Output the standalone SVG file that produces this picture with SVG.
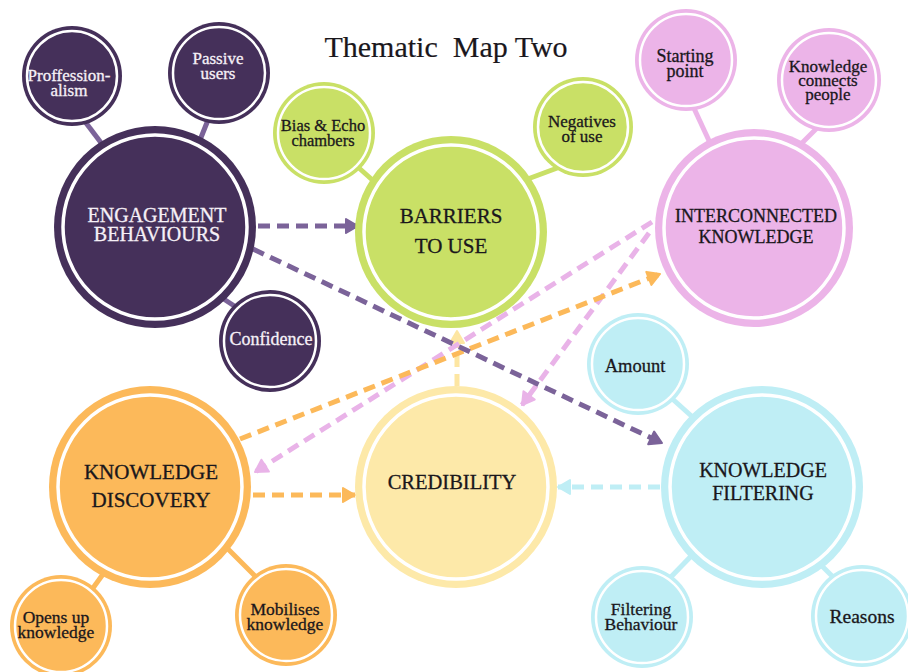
<svg xmlns="http://www.w3.org/2000/svg" width="908" height="672" viewBox="0 0 908 672">
  <style>
    text { font-family: "Liberation Serif", "Times New Roman", serif; text-anchor: middle; fill: #1a171c; stroke: #1a171c; stroke-width: 0.3px; }
    .title { font-size: 30px; white-space: pre; stroke-width: 0.2px; }
    .main { font-size: 20px; }
    .sub { font-size: 17px; }
    .one { font-size: 18.5px; }
    .light { fill: #f6f0f7; stroke: #f6f0f7; }
    .ring { fill: none; stroke: #ffffff; }
    .ring-l { stroke-width: 3.5px; }
    .ring-s { stroke-width: 2.5px; }
    .purple { fill: #45305a; }
    .green { fill: #c9e066; }
    .pink { fill: #ecb4e8; }
    .orange { fill: #fcb95a; }
    .yellow { fill: #fde9a9; }
    .cyan { fill: #bfeef5; }
    .link { stroke-width: 5px; stroke-linecap: butt; fill: none; }
    .dash { stroke-width: 5px; stroke-dasharray: 12 7; fill: none; }
  </style>
  <defs>
    <marker id="ah-purple" viewBox="0 0 16 18" refX="14" refY="9" markerWidth="16" markerHeight="18" markerUnits="userSpaceOnUse" orient="auto">
      <path d="M2,2 L14,9 L2,16 Z" fill="#7b6399" stroke="#7b6399" stroke-width="2" stroke-linejoin="round"/>
    </marker>
    <marker id="ah-orange" viewBox="0 0 16 18" refX="14" refY="9" markerWidth="16" markerHeight="18" markerUnits="userSpaceOnUse" orient="auto">
      <path d="M2,2 L14,9 L2,16 Z" fill="#fcb95a" stroke="#fcb95a" stroke-width="2" stroke-linejoin="round"/>
    </marker>
    <marker id="ah-pink" viewBox="0 0 16 18" refX="14" refY="9" markerWidth="16" markerHeight="18" markerUnits="userSpaceOnUse" orient="auto">
      <path d="M2,2 L14,9 L2,16 Z" fill="#e9b3e8" stroke="#e9b3e8" stroke-width="2" stroke-linejoin="round"/>
    </marker>
    <marker id="ah-yellow" viewBox="0 0 16 18" refX="14" refY="9" markerWidth="16" markerHeight="18" markerUnits="userSpaceOnUse" orient="auto">
      <path d="M2,2 L14,9 L2,16 Z" fill="#fde6a2" stroke="#fde6a2" stroke-width="2" stroke-linejoin="round"/>
    </marker>
    <marker id="ah-cyan" viewBox="0 0 16 18" refX="14" refY="9" markerWidth="16" markerHeight="18" markerUnits="userSpaceOnUse" orient="auto">
      <path d="M2,2 L14,9 L2,16 Z" fill="#bfeef5" stroke="#bfeef5" stroke-width="2" stroke-linejoin="round"/>
    </marker>
  </defs>

  <rect width="908" height="672" fill="#ffffff"/>

  <text class="title" x="446" y="57">Thematic  Map Two</text>

  <!-- links and arrows -->
  <g id="connectors">
    <!-- solid links from each theme to its sub-themes -->
    <g stroke="#7b6399">
      <line class="link" x1="80" y1="115" x2="105" y2="148"/>
      <line class="link" x1="210" y1="115" x2="198" y2="145"/>
      <line class="link" x1="210" y1="290" x2="245" y2="313"/>
    </g>
    <g stroke="#c9e066">
      <line class="link" x1="350" y1="160" x2="378" y2="185"/>
      <line class="link" x1="525" y1="180" x2="560" y2="167"/>
    </g>
    <g stroke="#ecb4e8">
      <line class="link" x1="692" y1="104" x2="711" y2="145"/>
      <line class="link" x1="825" y1="120" x2="798" y2="147"/>
    </g>
    <g stroke="#fcb95a">
      <line class="link" x1="106" y1="570" x2="88" y2="595"/>
      <line class="link" x1="225" y1="546" x2="258" y2="579"/>
    </g>
    <g stroke="#bfeef5">
      <line class="link" x1="668" y1="395" x2="697" y2="421"/>
      <line class="link" x1="668" y1="580" x2="697" y2="550"/>
      <line class="link" x1="816" y1="560" x2="840" y2="584"/>
    </g>

    <!-- dashed relations between themes -->
    <line class="dash" stroke="#fde6a2" x1="457" y1="386" x2="457" y2="331" marker-end="url(#ah-yellow)"/>
    <line class="dash" stroke="#e9b3e8" x1="652" y1="222" x2="255" y2="472" marker-end="url(#ah-pink)"/>
    <line class="dash" stroke="#e9b3e8" x1="649" y1="233" x2="522" y2="405" marker-end="url(#ah-pink)"/>
    <line class="dash" stroke="#fcb95a" x1="240" y1="439" x2="660" y2="274" marker-end="url(#ah-orange)"/>
    <line class="dash" stroke="#fcb95a" x1="253" y1="495" x2="355" y2="495" marker-end="url(#ah-orange)"/>
    <line class="dash" stroke="#bfeef5" x1="660" y1="487" x2="558" y2="487" marker-end="url(#ah-cyan)"/>
    <line class="dash" stroke="#7b6399" x1="258" y1="226" x2="358" y2="226" marker-end="url(#ah-purple)"/>
    <line class="dash" stroke="#7b6399" x1="253" y1="249" x2="662" y2="443" marker-end="url(#ah-purple)"/>
  </g>

  <!-- Engagement behaviours -->
  <g id="engagement">
    <circle class="purple" cx="155" cy="227" r="101"/>
    <circle class="ring ring-l" cx="155" cy="227" r="92"/>
    <text class="main light" x="157" y="222">ENGAGEMENT</text>
    <text class="main light" x="157" y="241">BEHAVIOURS</text>
  </g>
  <g id="professionalism">
    <circle class="purple" cx="72" cy="76" r="50"/>
    <circle class="ring ring-s" cx="72" cy="76" r="45"/>
    <text class="sub light" x="69" y="81">Proffession-</text>
    <text class="sub light" x="69" y="96">alism</text>
  </g>
  <g id="passive-users">
    <circle class="purple" cx="219" cy="73" r="51"/>
    <circle class="ring ring-s" cx="219" cy="73" r="46"/>
    <text class="sub light" x="218" y="64">Passive</text>
    <text class="sub light" x="218" y="79">users</text>
  </g>
  <g id="confidence">
    <circle class="purple" cx="270" cy="341" r="51"/>
    <circle class="ring ring-s" cx="270" cy="341" r="46"/>
    <text class="one light" style="font-size:18px" x="271" y="345">Confidence</text>
  </g>

  <!-- Barriers to use -->
  <g id="barriers">
    <circle class="green" cx="451" cy="232" r="96"/>
    <circle class="ring ring-l" cx="451" cy="232" r="87"/>
    <text class="main" style="font-size:21px" x="451" y="223">BARRIERS</text>
    <text class="main" style="font-size:21px" x="451" y="253">TO USE</text>
  </g>
  <g id="bias-echo">
    <circle class="green" cx="324" cy="133" r="51"/>
    <circle class="ring ring-s" cx="324" cy="133" r="46"/>
    <text class="sub" style="font-size:16.5px" x="323" y="131">Bias &amp; Echo</text>
    <text class="sub" style="font-size:16.5px" x="323" y="146">chambers</text>
  </g>
  <g id="negatives">
    <circle class="green" cx="583" cy="127" r="50"/>
    <circle class="ring ring-s" cx="583" cy="127" r="45"/>
    <text class="sub" x="582" y="127">Negatives</text>
    <text class="sub" x="582" y="142">of use</text>
  </g>

  <!-- Interconnected knowledge -->
  <g id="interconnected">
    <circle class="pink" cx="754" cy="228" r="99"/>
    <circle class="ring ring-l" cx="754" cy="228" r="90"/>
    <text class="main" style="font-size:18px" x="756" y="222">INTERCONNECTED</text>
    <text class="main" style="font-size:18px" x="756" y="243">KNOWLEDGE</text>
  </g>
  <g id="starting-point">
    <circle class="pink" cx="686" cy="60" r="51"/>
    <circle class="ring ring-s" cx="686" cy="60" r="46"/>
    <text class="sub" style="font-size:18px" x="685" y="62">Starting</text>
    <text class="sub" style="font-size:18px" x="685" y="77">point</text>
  </g>
  <g id="knowledge-connects">
    <circle class="pink" cx="829" cy="80" r="52"/>
    <circle class="ring ring-s" cx="829" cy="80" r="47"/>
    <text class="sub" x="828" y="72">Knowledge</text>
    <text class="sub" x="828" y="86">connects</text>
    <text class="sub" x="828" y="100">people</text>
  </g>

  <!-- Knowledge discovery -->
  <g id="discovery">
    <circle class="orange" cx="150" cy="487" r="101"/>
    <circle class="ring ring-l" cx="150" cy="487" r="92"/>
    <text class="main" style="font-size:21px" x="151" y="479">KNOWLEDGE</text>
    <text class="main" style="font-size:21px" x="151" y="507">DISCOVERY</text>
  </g>
  <g id="opens-up">
    <circle class="orange" cx="61" cy="626" r="51"/>
    <circle class="ring ring-s" cx="61" cy="626" r="46"/>
    <text class="sub" style="font-size:17.5px" x="56" y="623">Opens up</text>
    <text class="sub" style="font-size:17.5px" x="56" y="638">knowledge</text>
  </g>
  <g id="mobilises">
    <circle class="orange" cx="286" cy="615" r="51"/>
    <circle class="ring ring-s" cx="286" cy="615" r="46"/>
    <text class="sub" style="font-size:17.5px" x="285" y="615">Mobilises</text>
    <text class="sub" style="font-size:17.5px" x="285" y="630">knowledge</text>
  </g>

  <!-- Credibility -->
  <g id="credibility">
    <circle class="yellow" cx="456" cy="487" r="101"/>
    <circle class="ring ring-l" cx="456" cy="487" r="92"/>
    <text class="main" style="font-size:20.5px" x="452" y="489">CREDIBILITY</text>
  </g>

  <!-- Knowledge filtering -->
  <g id="filtering">
    <circle class="cyan" cx="762" cy="487" r="101"/>
    <circle class="ring ring-l" cx="762" cy="487" r="92"/>
    <text class="main" x="763" y="477">KNOWLEDGE</text>
    <text class="main" x="763" y="500">FILTERING</text>
  </g>
  <g id="amount">
    <circle class="cyan" cx="638" cy="364" r="51"/>
    <circle class="ring ring-s" cx="638" cy="364" r="46"/>
    <text class="one" x="635" y="372">Amount</text>
  </g>
  <g id="filtering-behaviour">
    <circle class="cyan" cx="642" cy="617" r="51"/>
    <circle class="ring ring-s" cx="642" cy="617" r="46"/>
    <text class="sub" style="font-size:17.5px" x="641" y="615">Filtering</text>
    <text class="sub" style="font-size:17.5px" x="641" y="630">Behaviour</text>
  </g>
  <g id="reasons">
    <circle class="cyan" cx="862" cy="616" r="51"/>
    <circle class="ring ring-s" cx="862" cy="616" r="46"/>
    <text class="one" style="font-size:19.5px" x="862" y="623">Reasons</text>
  </g>
</svg>
